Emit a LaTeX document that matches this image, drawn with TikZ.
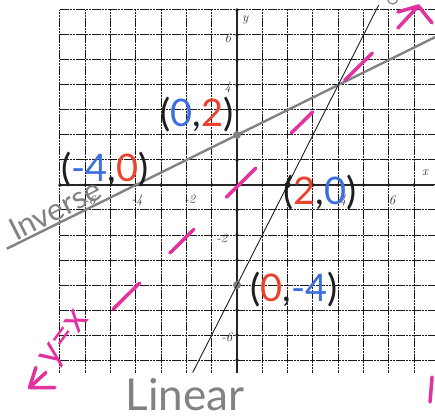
\documentclass[tikz,border=0pt]{standalone}
\usepackage{fontspec}
\newfontfamily\hand{Lato}
\usetikzlibrary{arrows.meta}
\definecolor{pk}{RGB}{226,50,160}
\definecolor{bl}{RGB}{60,110,225}
\definecolor{rd}{RGB}{235,65,45}
\definecolor{ink}{RGB}{30,30,30}
\definecolor{pencil}{RGB}{130,130,130}
\begin{document}
\begin{tikzpicture}[x=25.3pt,y=25pt,
  gridline/.style={black!90,line width=1pt,dash pattern=on 2.6pt off 0.6pt},
  axisline/.style={black!85,line width=2.4pt},
  ticklab/.style={font=\fontsize{13}{13}\selectfont\itshape,text=black!80,inner sep=0pt},
  marker/.style={pk,line width=3.5pt,line cap=round,line join=round},
  coordlab/.style={font=\hand\fontsize{38}{38}\selectfont,inner sep=0pt},
  pencilword/.style={text=pencil,inner sep=0pt}]
\useasboundingbox (-9.368,-9.32) rectangle (7.826,7.4);
\fill[white] (-9.368,-9.32) rectangle (7.826,7.4);
% grid
\foreach \x in {-7,...,7} \draw[gridline] (\x,-7.5) -- (\x,7);
\foreach \y in {-7,...,7} \draw[gridline] (-7,\y) -- (7.8,\y);
% axes
\draw[axisline] (-7,0) -- (7.8,0);
\draw[axisline] (0,-7.5) -- (0,7);
\foreach \t in {-7,...,7} {\fill[ink] (\t,0) circle (1.9pt); \fill[ink] (0,\t) circle (1.9pt);}
\fill[pencil] (0,2) circle (4pt);
\fill[pencil] (0,-4) circle (4pt);
\fill[ink] (2,0) circle (3pt);
% axis labels
\node[ticklab] (lx) at (7.43,0.48) {x};
\node[ticklab] (ly) at (0.32,6.6) {y};
\node[ticklab] (ty6) at (-0.36,5.88) {6};
\node[ticklab] (ty4) at (-0.36,3.92) {4};
\node[ticklab] (tym2) at (-0.6,-2.12) {-2};
\node[ticklab] (tym6) at (-0.4,-6.08) {-6};
\node[ticklab] (txm6) at (-5.81,-0.62) {-6};
\node[ticklab] (txm4) at (-3.95,-0.62) {-4};
\node[ticklab] (txm2) at (-1.86,-0.57) {-2};
\node[ticklab] (tx4) at (4.19,-0.62) {4};
\node[ticklab] (tx6) at (6.13,-0.62) {6};
% inverse line (gray) and linear line (black)
\coordinate (invA) at (-9.1,-2.55);
\coordinate (invB) at (7.83,5.915);
\draw[pencil,line width=2.4pt] (invA) -- (invB);
\coordinate (linA) at (-1.75,-7.5);
\coordinate (linB) at (5.6,7.2);
\draw[ink,line width=0.9pt] (linA) -- (linB);
% y = x dashed marker line
\foreach \a/\b in {-4.9/-3.85,-2.65/-1.7,-0.42/0.75,2.15/3.0,4.25/5.35}
  \draw[marker] (\a,\a-0.07) -- (\b,\b-0.07);
\coordinate (trS) at (6.36,6.28);
\coordinate (trT) at (7.17,7.16);
\coordinate (trA) at (6.36,6.92);
\coordinate (trB) at (7.71,6.48);
\draw[marker] (trS) -- (trT);
\draw[marker] (trA) -- (trT) -- (trB);
\coordinate (blT) at (-8.2,-8.1);
\coordinate (blA) at (-7.95,-7.3);
\coordinate (blB) at (-7.2,-8.1);
\coordinate (blS) at (-7.55,-7.5);
\draw[marker] (blA) -- (blT) -- (blB);
\draw[marker] (blT) -- (blS);
\node[text=pk,inner sep=0pt,rotate=54,font=\hand\fontsize{38}{38}\selectfont] (yx) at (-6.75,-6.2) {y=x};
\draw[marker] (7.71,-7.68) -- (7.63,-8.68);
\draw[pencil,line width=1.2pt] (5.95,7.42) to[out=-80,in=180] (6.15,7.24) to[out=0,in=-100] (6.35,7.42);
% handwritten words
\node[pencilword,rotate=27,anchor=base,font=\hand\fontsize{31}{31}\selectfont] (inv) at (-7.0,-1.38) {Inverse};
\node[pencilword,anchor=base,font=\hand\fontsize{44}{44}\selectfont] (lin) at (-2.06,-9.02) {Linear};
% coordinate labels
\node[coordlab] (p02) at (-1.58,2.8) {\textcolor{ink}{(}\textcolor{bl}{0}\textcolor{ink}{,}\textcolor{rd}{2}\textcolor{ink}{)}};
\node[coordlab] (pm40) at (-5.22,0.6) {\textcolor{ink}{(}\textcolor{bl}{-4}\textcolor{ink}{,}\textcolor{rd}{0}\textcolor{ink}{)}};
\node[coordlab] (p20) at (3.28,-0.32) {\textcolor{ink}{(}\textcolor{rd}{2}\textcolor{ink}{,}\textcolor{bl}{0}\textcolor{ink}{)}};
\node[coordlab] (p0m4) at (2.25,-4.2) {\textcolor{ink}{(}\textcolor{rd}{0}\textcolor{ink}{,}\textcolor{bl}{-4}\textcolor{ink}{)}};
\end{tikzpicture}
\end{document}
